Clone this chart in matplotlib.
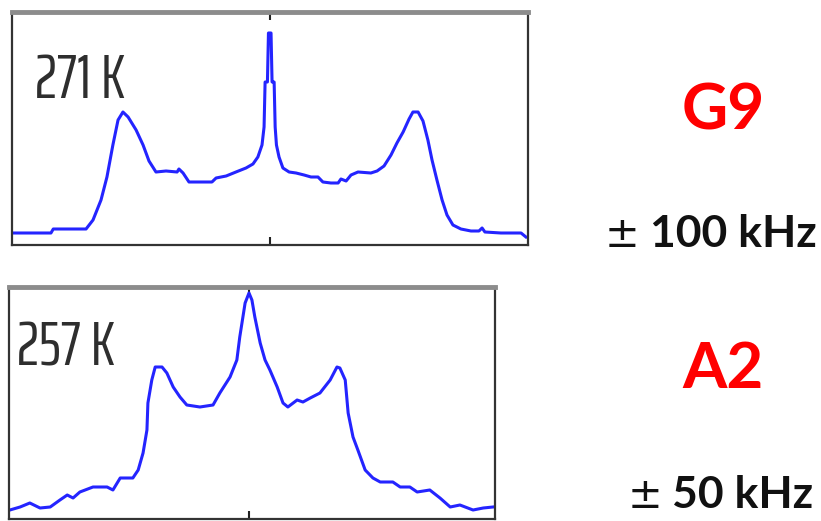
import matplotlib
matplotlib.use("Agg")
import matplotlib.pyplot as plt
from matplotlib import font_manager

# G9 spectrum at 271 K, frequency offset in kHz
g9_khz = [-99.6, -84.9, -84.0, -71.3, -68.6, -65.5, -63.2, -60.9, -58.9, -57.0,
          -55.0, -51.9, -49.2, -46.9, -44.2, -40.3, -36.0, -35.3, -33.7, -31.4,
          -26.7, -22.5, -20.9, -17.0, -13.2, -9.3, -6.6, -4.7, -3.1, -2.3,
          -1.9, -1.0, -0.6, 0.4, 0.8, 1.6, 2.0, 2.5, 3.5, 5.0,
          7.4, 10.1, 13.2, 15.9, 18.6, 20.5, 23.6, 26.4, 27.5, 29.5,
          31.4, 34.1, 39.1, 41.5, 44.2, 46.9, 49.2, 51.6, 53.9, 55.4,
          57.4, 59.3, 61.2, 62.8, 64.7, 66.7, 68.6, 70.9, 74.0, 77.9,
          81.0, 82.2, 83.3, 89.5, 97.3, 99.2]
g9_int = [12, 12, 16, 16, 25, 45, 68, 100, 125, 133,
          128, 115, 100, 84, 73, 74, 73, 76, 72, 63,
          63, 63, 67, 69, 73, 77, 81, 88, 100, 118,
          163, 163, 212, 212, 163, 163, 118, 100, 88, 77,
          73, 72, 70, 68, 68, 63, 62, 62, 66, 64,
          70, 73, 72, 74, 79, 90, 102, 113, 126, 133,
          133, 124, 105, 85, 65, 45, 30, 20, 16, 14,
          14, 17, 13, 12, 12, 8]

# A2 spectrum at 257 K
a2_khz = [-49.2, -47.1, -45.1, -43.0, -40.9, -38.9, -37.4, -36.2, -34.8, -32.1,
          -29.2, -28.0, -26.5, -23.9, -22.8, -21.8, -21.0, -20.8, -20.0, -19.3,
          -17.9, -16.9, -15.6, -14.2, -12.8, -10.1, -7.4, -6.0, -3.9, -2.5,
          -1.9, -0.8, 0.0, 0.6, 1.2, 2.3, 3.3, 4.3, 5.8, 7.0,
          8.0, 9.9, 11.1, 12.6, 14.6, 16.7, 18.1, 18.7, 19.8, 20.4,
          21.4, 22.4, 23.9, 25.5, 27.0, 29.6, 31.1, 33.1, 34.6, 37.2,
          39.3, 41.4, 43.4, 46.1, 48.2, 50.2]
a2_int = [9, 12, 16, 11, 12, 19, 24, 21, 27, 32,
          32, 29, 41, 41, 49, 66, 89, 116, 139, 152,
          152, 146, 132, 122, 114, 112, 114, 126, 142, 159,
          182, 216, 226, 219, 202, 176, 159, 149, 132, 116,
          112, 119, 117, 121, 126, 139, 152, 151, 139, 106,
          82, 69, 49, 41, 37, 37, 32, 32, 27, 29,
          21, 12, 14, 9, 11, 12]

temps = ["271 K", "257 K"]
samples = ["G9", "A2"]
widths = ["100 kHz", "50 kHz"]

W, H = 821, 521
fig = plt.figure(figsize=(W / 100, H / 100), dpi=100)
fig.patch.set_facecolor("white")


def px_axes(left, top, right, bottom):
    return fig.add_axes([left / W, 1 - bottom / H, (right - left) / W, (bottom - top) / H])


def style(ax):
    ax.set_yticks([])
    ax.set_xticks([0])
    ax.set_xticklabels([])
    ax.tick_params(axis="x", direction="in", top=True, bottom=True,
                   length=6, width=1.5, color="#222222")
    for side in ("left", "right", "bottom"):
        ax.spines[side].set_color("#333333")
        ax.spines[side].set_linewidth(1.6)
    ax.spines["top"].set_color("#8c8c8c")
    ax.spines["top"].set_linewidth(3.5)


# temperature labels: the narrowest installed sans face
def pick_narrow():
    names = {f.name for f in font_manager.fontManager.ttflist}
    for key in ("ExtraCondensed", "Extra Condensed", "Condensed", "Narrow"):
        hits = sorted(n for n in names if key in n and "Mono" not in n and "Serif" not in n)
        if hits:
            return hits[0]
    return None


temp_font = pick_narrow()
temp_sizes = (44, 44) if temp_font else (33, 34)
temp_font = temp_font or "Liberation Sans"

line_color = "#2424ff"

ax1 = px_axes(12, 12, 528, 245)
ax1.plot(g9_khz, g9_int, color=line_color, lw=2.2)
ax1.set_xlim(-100, 100)
ax1.set_ylim(0, 233)
style(ax1)
ax1.text(0.045, 0.63, temps[0], transform=ax1.transAxes, family=temp_font,
         fontsize=temp_sizes[0], color="#2e2e2e", va="baseline", ha="left")

ax2 = px_axes(9, 287, 495, 519)
ax2.plot(a2_khz, a2_int, color=line_color, lw=2.2)
ax2.set_xlim(-50 * 240 / 243, 50 * 246 / 243)
ax2.set_ylim(0, 232)
style(ax2)
ax2.text(0.016, 0.66, temps[1], transform=ax2.transAxes, family=temp_font,
         fontsize=temp_sizes[1], color="#2e2e2e", va="baseline", ha="left")

# sample names and spectral widths on the right
fig.text(723 / W, 1 - 130 / H, samples[0], fontsize=46, fontweight="bold",
         family="Lato", color="#ff0000", ha="center", va="baseline")
fig.text(723 / W, 1 - 388 / H, samples[1], fontsize=46, fontweight="bold",
         family="Lato", color="#ff0000", ha="center", va="baseline")

fig.text(605 / W, 1 - 247 / H, "\u00b1", fontsize=30, family="DejaVu Sans",
         color="#111111", ha="left", va="baseline")
fig.text(650 / W, 1 - 247 / H, widths[0], fontsize=32, fontweight="bold",
         family="Lato", color="#111111", ha="left", va="baseline")
fig.text(628 / W, 1 - 508 / H, "\u00b1", fontsize=30, family="DejaVu Sans",
         color="#111111", ha="left", va="baseline")
fig.text(672 / W, 1 - 508 / H, widths[1], fontsize=32, fontweight="bold",
         family="Lato", color="#111111", ha="left", va="baseline")

fig.savefig("out.png", dpi=100, facecolor="white")
